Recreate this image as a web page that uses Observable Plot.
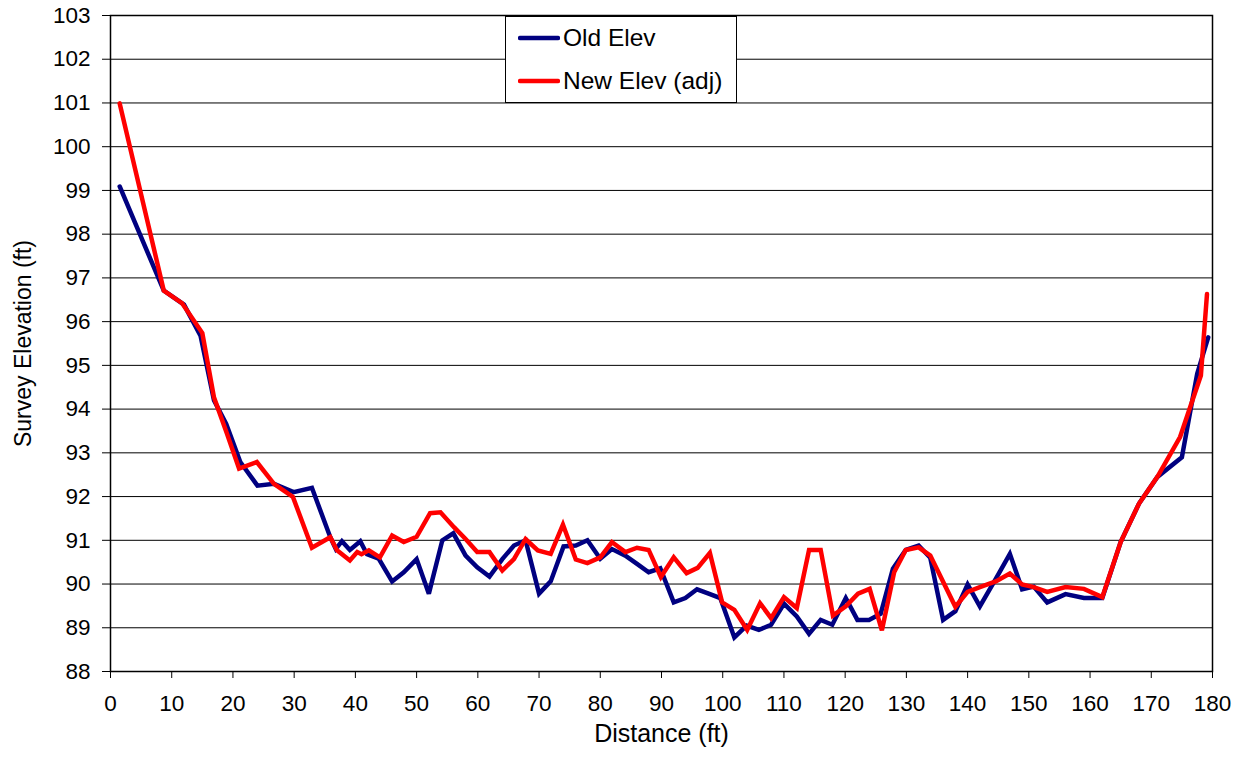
<!DOCTYPE html>
<html><head><meta charset="utf-8">
<script src="https://cdn.jsdelivr.net/npm/d3@7"></script>
<script src="https://cdn.jsdelivr.net/npm/@observablehq/plot@0.6"></script>
<style>
body{margin:0;background:#fff;font-family:"Liberation Sans",Arial,sans-serif;}
#wrap{position:relative;width:1242px;height:757px;}
#legend{position:absolute;left:505px;top:16px;width:230px;height:85px;border:1.5px solid #000;background:#fff;}
.item{position:absolute;left:12px;height:30px;display:flex;align-items:center;font-size:24.5px;color:#000;white-space:nowrap;}
.item svg{margin-right:3px;}
</style></head><body><div id="wrap"></div>
<script>
const seriesNames = ["Old Elev", "New Elev (adj)"];
const seriesColors = ["#000080", "#ff0000"];
const xTicks = [0,10,20,30,40,50,60,70,80,90,100,110,120,130,140,150,160,170,180];
const yTicks = [88,89,90,91,92,93,94,95,96,97,98,99,100,101,102,103];

const oldX = [1.5,8.7,12,14.7,16.9,18.9,21.2,24,26.7,29.9,32.9,35.9,36.8,37.8,39.1,40.8,41.9,43.8,46,47.9,50,52,54.2,56,58,59.9,61.9,64,65.9,67.8,70,71.9,74,76,77.9,80,81.9,84.1,86,87.9,89.8,92,93.9,95.8,97.7,99.6,101.9,103.9,105.9,107.9,110,112.1,114.1,116,117.9,120.1,122,123.9,125.8,127.8,129.9,132,133.9,136,138,140,142,144.6,146.9,148.9,150.8,153,156,159,162,165,168,171,175,177.5,179.3];
const oldY = [99.09,96.71,96.39,95.68,94.2,93.66,92.79,92.25,92.29,92.1,92.2,91.07,90.8,90.98,90.78,90.98,90.68,90.58,90.06,90.27,90.57,89.78,91.0,91.16,90.65,90.38,90.17,90.57,90.88,91.0,89.78,90.06,90.86,90.88,91.0,90.58,90.8,90.65,90.46,90.27,90.36,89.58,89.68,89.88,89.78,89.68,88.78,89.05,88.95,89.07,89.55,89.26,88.86,89.18,89.07,89.68,89.18,89.18,89.32,90.35,90.78,90.88,90.6,89.18,89.38,89.99,89.49,90.12,90.69,89.88,89.94,89.58,89.77,89.68,89.68,90.96,91.84,92.45,92.9,94.81,95.64];

const newX = [1.5,8.7,11.7,15,16.9,19,21,23.9,26.7,29.8,32.9,35.9,37,39.1,40.3,41,42.2,44,46,47.9,50,52.2,53.9,56.1,58,59.9,61.9,64,65.9,67.8,69.8,71.9,73.9,76,77.9,80,81.9,84.1,86,87.9,89.9,92,94.1,95.9,97.9,99.9,101.9,104,106.1,107.9,110,112.1,114.1,116,118,120.1,122.1,124,126,128,129.9,132,133.9,138,140,142,144.6,146.9,148.9,150.8,153,156,159,162,165,168,171,174.7,178.1,179.1];
const newY = [100.99,96.71,96.42,95.74,94.27,93.45,92.64,92.79,92.29,91.99,90.83,91.07,90.77,90.54,90.73,90.68,90.77,90.61,91.11,90.96,91.08,91.62,91.64,91.3,91.03,90.73,90.73,90.31,90.57,91.03,90.77,90.69,91.36,90.56,90.48,90.61,90.96,90.73,90.83,90.78,90.16,90.61,90.25,90.37,90.71,89.58,89.41,88.95,89.56,89.22,89.7,89.45,90.78,90.78,89.28,89.49,89.78,89.89,88.94,90.27,90.78,90.84,90.65,89.48,89.82,89.93,90.06,90.24,89.99,89.93,89.82,89.93,89.89,89.7,90.96,91.84,92.45,93.36,94.77,96.63];

const oldData = oldX.map((x, i) => ({x, y: oldY[i]}));
const newData = newX.map((x, i) => ({x, y: newY[i]}));

const font = '"Liberation Sans", Arial, sans-serif';
const chart = Plot.plot({
  width: 1242, height: 757,
  marginLeft: 110, marginRight: 30, marginTop: 15, marginBottom: 86,
  x: {domain: [0, 180]},
  y: {domain: [88, 103]},
  style: {fontFamily: font, fontSize: "22px", color: "#000", background: "#fff", overflow: "visible"},
  marks: [
    Plot.gridY(yTicks, {stroke: "#000", strokeOpacity: 1, strokeWidth: 1}),
    Plot.axisY(yTicks, {tickSize: 8, tickPadding: 12, fontSize: 22.5, label: null, stroke: "#000"}),
    Plot.axisX(xTicks, {tickSize: 7, tickPadding: 17, fontSize: 22.5, label: null, stroke: "#000"}),
    Plot.frame({stroke: "#000", strokeWidth: 1.5}),
    Plot.text(["Distance (ft)"], {frameAnchor: "bottom", dy: 70, fontSize: 25, fill: "#000"}),
    Plot.text(["Survey Elevation (ft)"], {frameAnchor: "left", textAnchor: "middle", rotate: -90, dx: -87, fontSize: 23, fill: "#000"}),
    Plot.line(oldData, {x: "x", y: "y", stroke: seriesColors[0], strokeWidth: 4.5, strokeLinejoin: "miter", strokeMiterlimit: 3}),
    Plot.line(newData, {x: "x", y: "y", stroke: seriesColors[1], strokeWidth: 4.5, strokeLinejoin: "miter", strokeMiterlimit: 3})
  ]
});
const wrap = document.getElementById("wrap");
wrap.appendChild(chart);

const legend = document.createElement("div");
legend.id = "legend";
seriesNames.forEach((name, i) => {
  const item = document.createElement("div");
  item.className = "item";
  item.style.top = (6 + i * 43) + "px";
  item.innerHTML = `<svg width="42" height="10"><line x1="2" y1="5" x2="40" y2="5" stroke="${seriesColors[i]}" stroke-width="4.5" stroke-linecap="round"/></svg><span>${name}</span>`;
  legend.appendChild(item);
});
wrap.appendChild(legend);
</script>
</body></html>
